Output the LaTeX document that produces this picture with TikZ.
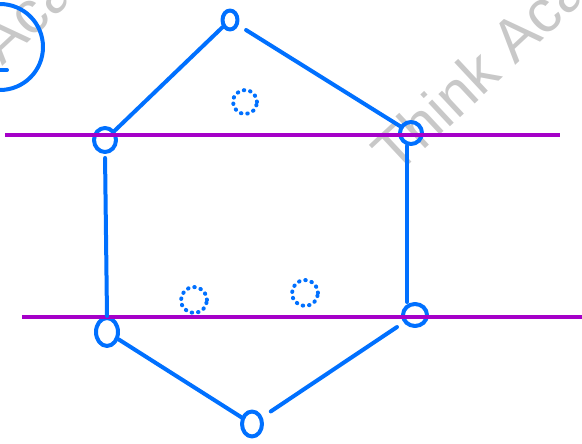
\documentclass[tikz,border=0pt]{standalone}
\usepackage{fontspec}
\setsansfont{Liberation Sans}
\usetikzlibrary{shapes.geometric}
\definecolor{penblue}{RGB}{0,112,255}
\definecolor{penpurple}{RGB}{165,0,200}
\definecolor{wmgray}{RGB}{200,200,200}
\tikzset{
  pen/.style={draw=penblue, line width=4pt, line cap=round, line join=round},
  vtx/.style={pen, ellipse, inner sep=0pt, minimum width=#1},
  vtx/.default=20pt,
  dotc/.style={draw=penblue, line width=4pt, line cap=round, dash pattern=on 0.5pt off 6pt, circle, inner sep=0pt},
  cut/.style={draw=penpurple, line width=3.5pt},
  wm/.style={text=wmgray, font=\sffamily\fontsize{60}{60}\selectfont, rotate=43, inner sep=0pt, anchor=base west}
}
\begin{document}
\begin{tikzpicture}[x=1pt,y=-1pt]
\useasboundingbox (0,0) rectangle (582,444);
\clip (0,0) rectangle (582,444);
% watermarks
\node[wm] (wm1) at (396,177) {Think Aca};
\node[wm] (wm2) at (-117,178) {Think Aca};
% big partial circle
\draw[pen] (0,47) circle (43);
\draw[pen] (0,70) -- (7,70);
% vertices
\node[vtx=15pt, minimum height=19pt] (A) at (230,20) {};
\node[vtx=22pt, minimum height=24pt] (UL) at (105,140) {};
\node[vtx=22pt, minimum height=22pt] (UR) at (411,133) {};
\node[vtx=22pt, minimum height=28pt] (LL) at (107,332) {};
\node[vtx=24pt, minimum height=22pt] (LR) at (415,315) {};
\node[vtx=20pt, minimum height=25pt] (B) at (252,424) {};
% cutting lines
\coordinate (c1l) at (5,135); \coordinate (c1r) at (560,135);
\coordinate (c2l) at (22,317); \coordinate (c2r) at (590,317);
\draw[cut] (c1l) -- (c1r);
\draw[cut] (c2l) -- (c2r);
% edges
\draw[pen] (A) -- (UL);
\draw[pen, shorten <=9pt] (A) -- (UR);
\draw[pen, shorten <=4pt] (UL.south) -- (LL.north);
\draw[pen] ([xshift=-4pt]UR.south) -- ([xshift=-8pt]LR.north);
\draw[pen] (LL) -- (B);
\draw[pen, shorten <=10pt, shorten >=8pt] (B) -- (LR);
% dotted circles
\node[dotc, minimum size=24pt] (d1) at (245,102) {};
\node[dotc, minimum size=26pt] (d2) at (194,300) {};
\node[dotc, minimum size=26pt] (d3) at (305,293) {};
\end{tikzpicture}
\end{document}
